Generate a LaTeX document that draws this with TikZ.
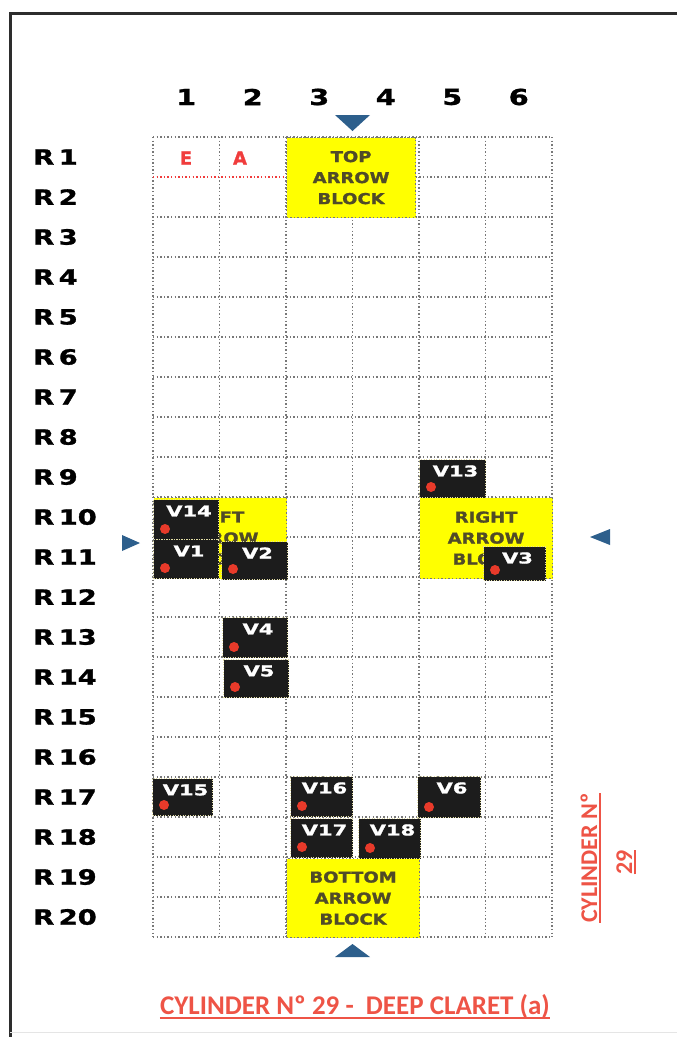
\documentclass[tikz,border=0pt]{standalone}
\usepackage{fontspec}
\newfontfamily\labelfont[FakeBold=1.2]{DejaVu Sans}
\newfontfamily\titlefont{Carlito}
\definecolor{framegray}{RGB}{45,45,45}
\definecolor{gridgray}{RGB}{120,120,120}
\definecolor{blockyellow}{RGB}{255,255,0}
\definecolor{blocktext}{RGB}{80,75,40}
\definecolor{valveblack}{RGB}{28,28,28}
\definecolor{valveedge}{RGB}{225,220,165}
\definecolor{dotred}{RGB}{232,58,42}
\definecolor{markred}{RGB}{240,60,60}
\definecolor{titlered}{RGB}{238,84,70}
\definecolor{arrowblue}{RGB}{45,95,140}
\newcommand\wide[2][1.3]{\scalebox{#1}[1]{#2}}

\begin{document}
\begin{tikzpicture}[x=1pt, y=-1pt,
  gridline/.style={gridgray, line width=1.4pt, dash pattern=on 1.4pt off 2.2pt},
  yblock/.style={fill=blockyellow, draw=gridgray, line width=1.2pt, dash pattern=on 1.4pt off 2.2pt,
    anchor=north west, inner sep=0pt, text=blocktext, align=center,
    font=\labelfont\bfseries\fontsize{15}{21}\selectfont},
  valve/.style={fill=valveblack, draw=valveedge, line width=1pt, dash pattern=on 1pt off 1.5pt,
    anchor=north west, inner sep=0pt},
  vtext/.style={text=white, inner sep=0pt, font=\labelfont\bfseries\fontsize{15}{18}\selectfont},
  collabel/.style={inner sep=0pt, font=\labelfont\bfseries\fontsize{22}{26}\selectfont},
  rowlabel/.style={anchor=west, inner sep=0pt, font=\labelfont\bfseries\fontsize{21}{24}\selectfont},
  cellmark/.style={text=markred, inner sep=0pt, font=\labelfont\bfseries\fontsize{18}{20}\selectfont},
  titletext/.style={text=titlered, inner sep=0pt, font=\titlefont\bfseries\fontsize{27}{32}\selectfont},
  uline/.style={titlered, line width=1.6pt}]
\useasboundingbox (0,0) rectangle (677,1037);

% frame
\draw[framegray, line width=3pt] (10,1037) -- (10,13) -- (677,13);
\draw[gray!20, line width=1pt] (10,1032) -- (677,1032);

% grid
\foreach \i in {0,...,6}
  \draw[gridline] ({153+66.5*\i},137) -- ({153+66.5*\i},937);
\foreach \j in {0,...,20}
  \draw[gridline] (153,{137+40*\j}) -- (552,{137+40*\j});
\draw[gridline, markred] (153,177) -- (284,177);

% column and row labels
\foreach \c in {1,...,6}
  \node[collabel] (col\c) at ({153+66.5*\c-33.25},97) {\wide{\c}};
\foreach \r in {1,...,20}
  \node[rowlabel] (row\r) at (33,{157+40*(\r-1)}) {\wide{R\,\r}};

\node[cellmark] (markE) at (186,158) {E};
\node[cellmark] (markA) at (240,158) {A};

% arrow blocks
\node[yblock, minimum width=129pt, minimum height=80pt] (topblk) at (286,137)
  {\wide[1.2]{TOP}\\\wide[1.2]{ARROW}\\\wide[1.2]{BLOCK}};
\node[yblock, minimum width=133pt, minimum height=81pt] (leftblk) at (153,497)
  {\wide[1.2]{LEFT}\\\wide[1.2]{ARROW}\\\wide[1.2]{BLOCK}};
\node[yblock, minimum width=133pt, minimum height=81pt] (rightblk) at (419,497)
  {\wide[1.2]{RIGHT}\\\wide[1.2]{ARROW}\\\wide[1.2]{BLOCK}};
\node[yblock, minimum width=133pt, minimum height=79pt] (botblk) at (286,858)
  {\wide[1.2]{BOTTOM}\\\wide[1.2]{ARROW}\\\wide[1.2]{BLOCK}};

% arrow marks
\fill[arrowblue] (335,115) -- (370,115) -- (352.5,131) -- cycle;
\fill[arrowblue] (335,957) -- (370,957) -- (352.5,944) -- cycle;
\fill[arrowblue] (122,535) -- (140,543) -- (122,551) -- cycle;
\fill[arrowblue] (610,529) -- (590,537) -- (610,545) -- cycle;

% valves
\foreach \n/\x/\y/\w/\h in {13/419/459/66/38, 14/153/499/65/40, 1/153/539/65/39,
    2/221/541/66/38, 3/483/546/62/34, 4/222/617/65/40, 5/223/659/65/38,
    15/152/778/60/37, 16/290/776/62/40, 6/417/776/63/41, 17/290/818/62/39,
    18/358/818/62/40} {
  \node[valve, minimum width=\w pt, minimum height=\h pt] (v\n) at (\x,\y) {};
  \node[vtext] (v\n-t) at ([xshift=3pt,yshift=-12pt]v\n.north) {\wide[1.4]{V\n}};
  \fill[dotred] ([xshift=12pt,yshift=11pt]v\n.south west) circle (5pt);
}

% titles
\node[titletext, rotate=90, anchor=base, font=\titlefont\bfseries\fontsize{24}{28}\selectfont]
  (cylside) at (597,858) {CYLINDER Nº};
\node[titletext, rotate=90, anchor=base, font=\titlefont\bfseries\fontsize{24}{28}\selectfont]
  (cylnum) at (632,862) {29};
\node[titletext, anchor=base] (title) at (355,1014) {CYLINDER Nº 29 -\ \ DEEP CLARET (a)};
\draw[uline] ([xshift=3pt]cylside.base west) -- ([xshift=3pt]cylside.base east);
\draw[uline] ([xshift=3pt]cylnum.base west) -- ([xshift=3pt]cylnum.base east);
\draw[uline] ([yshift=-4pt]title.base west) -- ([yshift=-4pt]title.base east);
\end{tikzpicture}
\end{document}
